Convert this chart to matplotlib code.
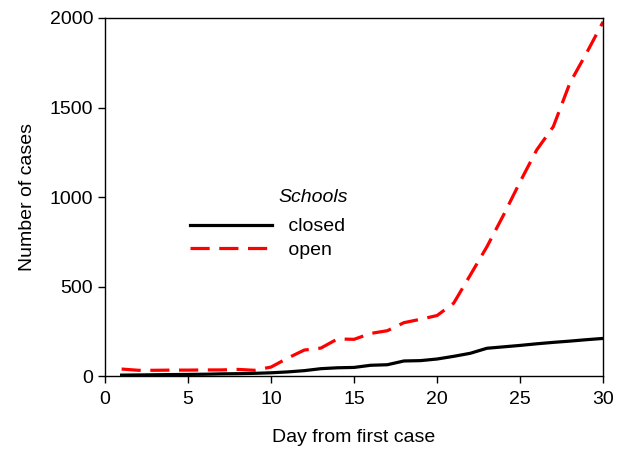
import matplotlib
matplotlib.use("Agg")
import matplotlib.pyplot as plt

plt.rcParams['font.family'] = ['Liberation Sans', 'DejaVu Sans']

# day from first case
days = list(range(1, 31))
# schools closed
closed = [5, 6, 7, 8, 9, 10, 12, 13, 15, 18,
          23, 30, 41, 46, 48, 60, 63, 84, 86, 95,
          110, 127, 155, 163, 171, 180, 188, 195, 203, 210]
# schools open
opened = [39, 32, 32, 33, 33, 34, 34, 37, 32, 50,
          100, 145, 156, 207, 205, 238, 253, 298, 317, 338,
          407, 564, 722, 899, 1085, 1263, 1393, 1637, 1804, 1979]

fig = plt.figure(figsize=(6.25, 4.5), dpi=100)
ax = fig.add_axes([0.168, 0.1644, 0.797, 0.7956])

ax.plot(days, closed, color='black', lw=2.3, label=' closed')
ax.plot(days, opened, color='red', lw=2.3, dashes=(6, 3), label=' open')

ax.set_xlim(0, 30)
ax.set_ylim(0, 2000)
ax.set_xticks([0, 5, 10, 15, 20, 25, 30])
ax.set_yticks([0, 500, 1000, 1500, 2000])
ax.tick_params(direction='out', length=5, width=1, labelsize=14)
ax.tick_params(axis='x', pad=6)
ax.set_xlabel('Day from first case', fontsize=14, labelpad=15)
ax.set_ylabel('Number of cases', fontsize=14, labelpad=10)
for s in ax.spines.values():
    s.set_linewidth(1)

leg = ax.legend(loc='upper left', bbox_to_anchor=(0.151, 0.469), frameon=False,
                fontsize=14, handlelength=4.2, handletextpad=0.6, borderpad=0,
                labelspacing=0.3)
# legend title drawn separately
ax.text(0.488, 0.5, 'Schools', transform=ax.transAxes, fontsize=14,
        style='italic', ha='right', va='center')

fig.savefig('out.png', dpi=100)
